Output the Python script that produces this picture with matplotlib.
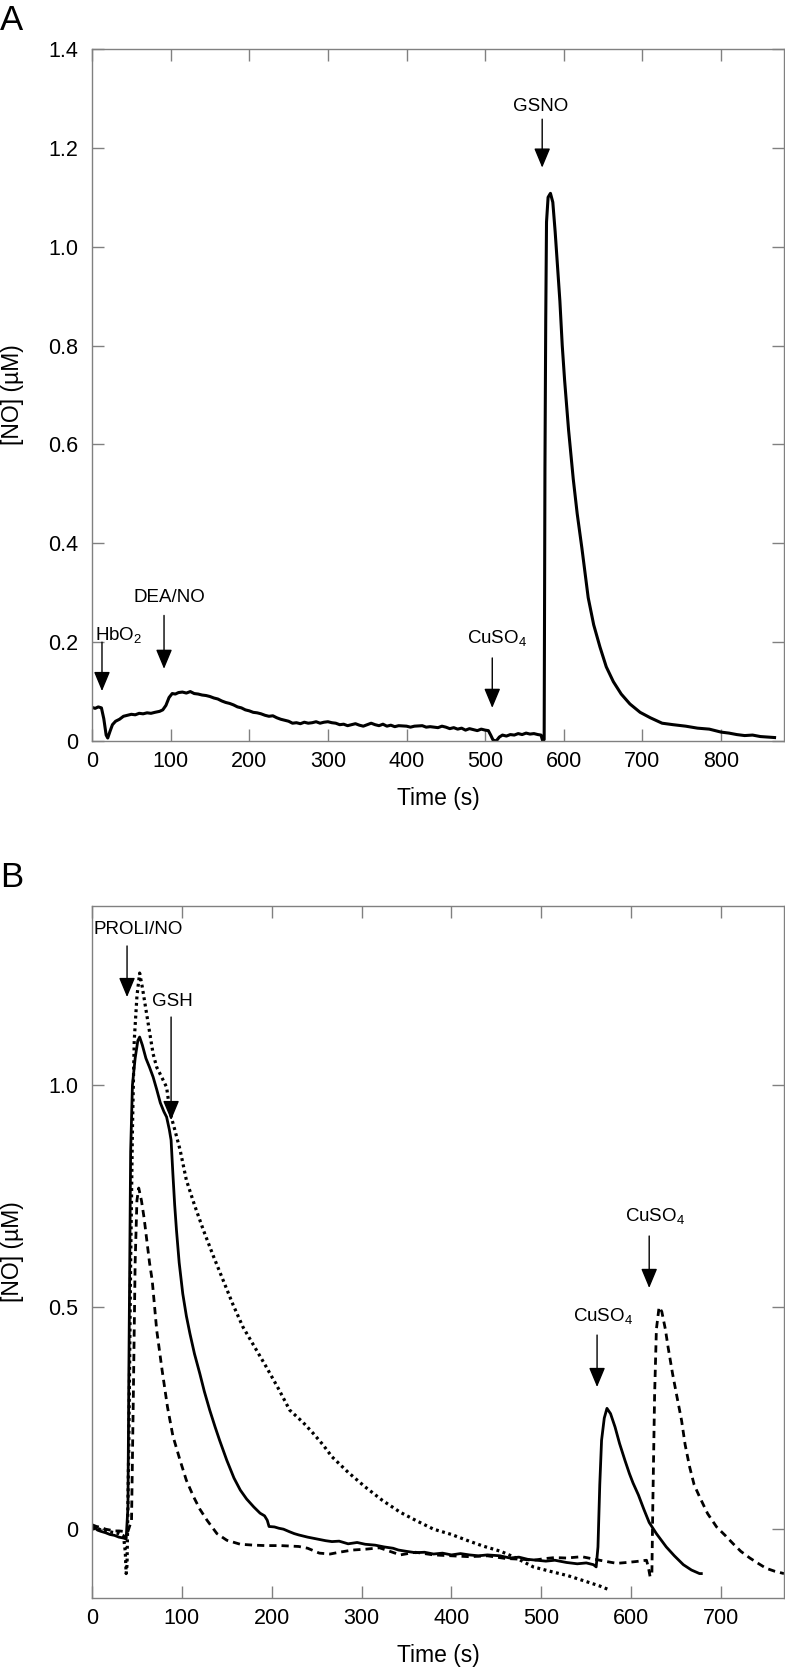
import numpy as np
import matplotlib
matplotlib.use('Agg')
import matplotlib.pyplot as plt

plt.rcParams['font.family'] = ['Liberation Sans', 'DejaVu Sans']
plt.rcParams['mathtext.default'] = 'regular'

# ---- panel A: single trace ----
a_time = [0, 4, 8, 12, 15, 18, 20, 23, 26, 30, 35, 40, 45, 50, 55, 60, 65, 70, 75, 80,
          86, 90, 94, 98, 102, 106, 110, 115, 120, 125, 130, 135, 140, 145, 150, 155,
          160, 165, 170, 175, 180, 185, 190, 195, 200, 205, 210, 215, 220, 225, 230,
          235, 240, 245, 250, 255, 260, 265, 270, 275, 280, 285, 290, 295, 300, 305,
          310, 315, 320, 325, 330, 335, 340, 345, 350, 355, 360, 365, 370, 375, 380,
          385, 390, 400, 405, 410, 420, 425, 430, 440, 445, 450, 455, 460, 465, 470,
          475, 480, 485, 490, 495, 500, 504, 507, 510, 514, 518, 522, 527, 532, 537,
          542, 547, 552, 557, 562, 567, 571, 573, 575, 576, 577, 578, 580, 583, 586,
          589, 592, 595, 598, 601, 606, 612, 617, 623, 631, 638, 646, 654, 663, 673,
          684, 697, 710, 725, 739, 755, 770, 785, 800, 810, 820, 830, 840, 850, 860, 868]
a_no = [0.068, 0.066, 0.069, 0.067, 0.045, 0.012, 0.006, 0.020, 0.033, 0.040, 0.044,
        0.050, 0.052, 0.054, 0.053, 0.056, 0.055, 0.057, 0.056, 0.058, 0.060, 0.063,
        0.072, 0.088, 0.096, 0.095, 0.098, 0.099, 0.097, 0.100, 0.096, 0.095, 0.093,
        0.092, 0.090, 0.087, 0.085, 0.081, 0.078, 0.076, 0.073, 0.069, 0.067, 0.063,
        0.061, 0.058, 0.057, 0.055, 0.052, 0.050, 0.051, 0.047, 0.044, 0.042, 0.040,
        0.036, 0.037, 0.035, 0.038, 0.036, 0.037, 0.039, 0.036, 0.038, 0.039, 0.037,
        0.036, 0.033, 0.034, 0.031, 0.033, 0.035, 0.032, 0.030, 0.033, 0.036, 0.033,
        0.031, 0.034, 0.030, 0.032, 0.029, 0.031, 0.030, 0.028, 0.030, 0.031, 0.028,
        0.029, 0.027, 0.030, 0.028, 0.025, 0.027, 0.024, 0.026, 0.022, 0.025, 0.023,
        0.021, 0.024, 0.022, 0.021, 0.012, 0.002, 0.000, 0.008, 0.012, 0.010, 0.013,
        0.012, 0.015, 0.013, 0.016, 0.014, 0.015, 0.013, 0.012, 0.001, 0.003, 0.55,
        0.85, 1.05, 1.10, 1.108, 1.09, 1.03, 0.96, 0.89, 0.80, 0.73, 0.63, 0.53, 0.46,
        0.39, 0.29, 0.235, 0.19, 0.15, 0.12, 0.095, 0.075, 0.058, 0.047, 0.036, 0.033,
        0.030, 0.026, 0.024, 0.018, 0.016, 0.013, 0.011, 0.012, 0.009, 0.008, 0.007]

# ---- panel B: three traces ----
b_solid_t = [0, 3, 6, 10, 15, 20, 25, 30, 35, 38, 40, 41, 42, 43, 45, 48, 51, 53, 56,
             60, 64, 68, 72, 76, 80, 83, 86, 88, 90, 92, 94, 97, 101, 105, 109, 114,
             120, 125, 131, 137, 142, 150, 158, 165, 172, 180, 187, 192, 195, 197, 203,
             208, 213, 220, 225, 230, 240, 250, 260, 267, 275, 285, 295, 304, 315, 325,
             335, 341, 350, 360, 370, 380, 390, 400, 410, 420, 430, 440, 454, 465, 475,
             485, 495, 505, 515, 528, 540, 550, 558, 561, 563, 565, 567, 570, 573, 577,
             582, 587, 593, 598, 602, 608, 614, 620, 628, 639, 648, 658, 667, 676, 678]
b_solid_no = [0.0, 0.005, -0.002, -0.005, -0.008, -0.012, -0.014, -0.018, -0.020, -0.022,
              0.05, 0.35, 0.60, 0.85, 1.00, 1.06, 1.10, 1.108, 1.09, 1.06, 1.04, 1.018,
              0.99, 0.96, 0.94, 0.928, 0.90, 0.876, 0.80, 0.73, 0.673, 0.60, 0.53, 0.48,
              0.44, 0.395, 0.35, 0.31, 0.268, 0.23, 0.20, 0.155, 0.115, 0.088, 0.068,
              0.050, 0.036, 0.030, 0.020, 0.006, 0.005, 0.002, 0.0, -0.006, -0.010,
              -0.013, -0.018, -0.022, -0.026, -0.028, -0.027, -0.033, -0.030, -0.034,
              -0.036, -0.040, -0.043, -0.047, -0.050, -0.053, -0.052, -0.056, -0.054,
              -0.058, -0.055, -0.058, -0.060, -0.058, -0.060, -0.065, -0.063, -0.068,
              -0.070, -0.072, -0.070, -0.075, -0.078, -0.076, -0.080, -0.085, -0.040,
              0.10, 0.20, 0.25, 0.272, 0.26, 0.23, 0.193, 0.155, 0.125, 0.104, 0.077,
              0.045, 0.015, -0.010, -0.040, -0.060, -0.080, -0.092, -0.100, -0.100]

b_dash_t = [0, 5, 10, 15, 20, 25, 30, 35, 40, 44, 46, 48, 50, 52, 55, 58, 61, 64, 67,
            72, 78, 84, 90, 98, 105, 113, 120, 128, 139, 150, 165, 180, 193, 210, 230,
            240, 253, 265, 275, 290, 305, 320, 343, 360, 380, 400, 420, 440, 460, 480,
            491, 505, 515, 528, 545, 560, 570, 584, 595, 605, 617, 619, 621, 623, 624,
            626, 628, 631, 634, 638, 641, 646, 651, 656, 660, 665, 670, 676, 685, 695,
            705, 713, 722, 732, 742, 750, 760, 770]
b_dash_no = [0.010, 0.006, 0.004, 0.0, -0.002, -0.004, -0.004, -0.005, -0.005, 0.02,
             0.30, 0.60, 0.74, 0.768, 0.74, 0.70, 0.65, 0.60, 0.56, 0.448, 0.358, 0.275,
             0.21, 0.155, 0.11, 0.073, 0.045, 0.020, -0.010, -0.025, -0.034, -0.036,
             -0.037, -0.037, -0.039, -0.043, -0.054, -0.056, -0.052, -0.047, -0.045,
             -0.042, -0.058, -0.052, -0.058, -0.060, -0.062, -0.060, -0.066, -0.068,
             -0.070, -0.066, -0.064, -0.065, -0.062, -0.068, -0.072, -0.077, -0.075,
             -0.073, -0.070, -0.085, -0.107, -0.100, 0.05, 0.30, 0.45, 0.50, 0.49, 0.45,
             0.41, 0.35, 0.297, 0.245, 0.19, 0.14, 0.10, 0.073, 0.035, 0.005, -0.015,
             -0.032, -0.050, -0.065, -0.078, -0.088, -0.095, -0.100]

b_dot_t = [0, 5, 10, 15, 20, 25, 30, 35, 37, 38, 39, 41, 43, 45, 47, 50, 53, 56, 60,
           64, 68, 72, 77, 83, 87, 92, 98, 105, 114, 124, 135, 146, 157, 168, 181, 194,
           207, 220, 235, 246, 257, 267, 285, 304, 323, 343, 360, 380, 400, 417, 435,
           455, 472, 491, 510, 530, 550, 565, 576]
b_dot_no = [0.0, 0.003, -0.002, -0.004, -0.006, -0.008, -0.010, -0.015, -0.05, -0.10,
            -0.08, 0.20, 0.60, 0.90, 1.10, 1.20, 1.252, 1.22, 1.17, 1.12, 1.07, 1.04,
            1.02, 0.995, 0.937, 0.90, 0.854, 0.786, 0.73, 0.673, 0.615, 0.56, 0.505,
            0.455, 0.41, 0.365, 0.318, 0.268, 0.24, 0.216, 0.19, 0.163, 0.128, 0.095,
            0.065, 0.038, 0.020, 0.0, -0.012, -0.025, -0.038, -0.050, -0.065, -0.085,
            -0.095, -0.105, -0.118, -0.128, -0.137]

a_yticks = [0, 0.2, 0.4, 0.6, 0.8, 1.0, 1.2, 1.4]
a_yticklabels = ['0', '0.2', '0.4', '0.6', '0.8', '1.0', '1.2', '1.4']
a_xticks = [0, 100, 200, 300, 400, 500, 600, 700, 800]
b_yticks = [0, 0.5, 1.0]
b_yticklabels = ['0', '0.5', '1.0']
b_xticks = [0, 100, 200, 300, 400, 500, 600, 700]

# annotations: label, arrow x, arrow start y, arrow tip y, text x, text y, text ha
a_notes = [('HbO$_2$', 12.7, 0.200, 0.101, 4, 0.204, 'left'),
           ('DEA/NO', 91.6, 0.254, 0.146, 99, 0.281, 'center'),
           ('CuSO$_4$', 509, 0.168, 0.067, 477, 0.199, 'left'),
           ('GSNO', 572.5, 1.258, 1.160, 571, 1.274, 'center')]
b_notes = [('PROLI/NO', 39, 1.313, 1.198, 2.2, 1.340, 'left'),
           ('GSH', 88, 1.153, 0.921, 89, 1.178, 'center'),
           ('CuSO$_4$', 562, 0.437, 0.320, 535, 0.468, 'left'),
           ('CuSO$_4$', 620, 0.660, 0.543, 593, 0.694, 'left')]

fig = plt.figure(figsize=(7.85, 16.76), dpi=100)
W, H = 785.0, 1676.0
axA = fig.add_axes([92 / W, 1 - 741 / H, 692 / W, 692 / H])
axB = fig.add_axes([92 / W, 1 - 1598 / H, 692 / W, 692 / H])

axA.plot(a_time, a_no, color='black', lw=2.2, solid_joinstyle='round')
axB.plot(b_solid_t, b_solid_no, color='black', lw=2.0, solid_joinstyle='round')
axB.plot(b_dash_t, b_dash_no, color='black', lw=2.0, linestyle=(0, (2.6, 1.8)))
axB.plot(b_dot_t, b_dot_no, color='black', lw=2.3, linestyle=(0, (0.9, 1.1)))

axA.set_xlim(0, 880)
axA.set_ylim(0, 1.4)
axA.set_xticks(a_xticks)
axA.set_yticks(a_yticks)
axA.set_yticklabels(a_yticklabels)

axB.set_xlim(0, 770)
axB.set_ylim(-0.155, 1.403)
axB.set_xticks(b_xticks)
axB.set_yticks(b_yticks)
axB.set_yticklabels(b_yticklabels)

for ax, notes in ((axA, a_notes), (axB, b_notes)):
    for sp in ax.spines.values():
        sp.set_color('#808080')
        sp.set_linewidth(1.0)
    ax.tick_params(direction='in', top=True, right=True, length=8.6, width=1.0,
                   color='#808080', labelsize=15.5, pad=7)
    ax.tick_params(axis='y', pad=10)
    ax.set_xlabel('Time (s)', fontsize=16.5)
    ax.set_ylabel('[NO] (\u00b5M)', fontsize=16.5)
    ax.xaxis.set_label_coords(0.5, -0.066)
    ax.yaxis.set_label_coords(-0.098, 0.5)
    for label, x, y0, y1, tx, ty, ha in notes:
        ax.annotate('', xy=(x, y1), xytext=(x, y0),
                    arrowprops=dict(arrowstyle='-|>,head_length=0.6,head_width=0.25',
                                    mutation_scale=20, lw=1.0, color='black',
                                    shrinkA=0, shrinkB=0))
        ax.text(tx, ty, label, ha=ha, va='baseline', fontsize=13.5)

fig.text(0.0, 1 - 30 / H, 'A', fontsize=25, ha='left', va='baseline')
fig.text(0.0, 1 - 887 / H, 'B', fontsize=25, ha='left', va='baseline')

fig.savefig('out.png', dpi=100)
